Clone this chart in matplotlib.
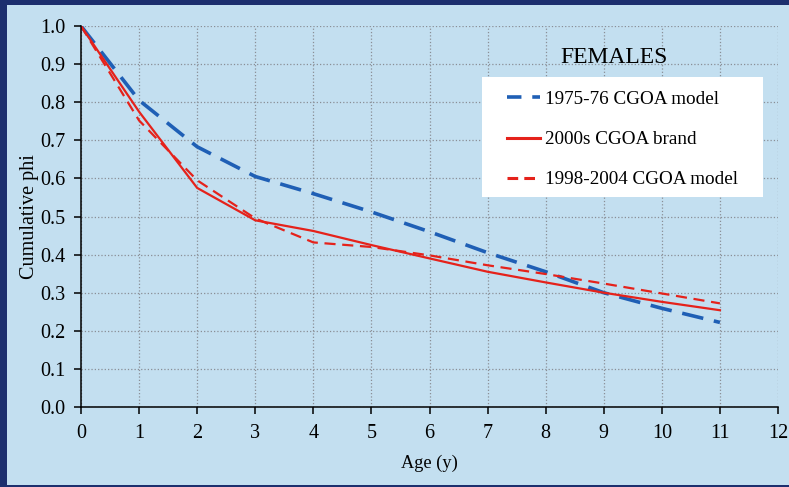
import matplotlib.pyplot as plt
from matplotlib.patches import Rectangle

# data
age = [0, 1, 2, 3, 4, 5, 6, 7, 8, 9, 10, 11]
model_1975 = [1.0, 0.805, 0.683, 0.605, 0.56, 0.512, 0.46, 0.405, 0.355, 0.30, 0.259, 0.222]
brand_2000s = [1.0, 0.775, 0.575, 0.49, 0.462, 0.425, 0.39, 0.355, 0.327, 0.30, 0.276, 0.254]
model_1998 = [1.0, 0.752, 0.595, 0.495, 0.432, 0.42, 0.398, 0.372, 0.349, 0.324, 0.298, 0.272]

plt.rcParams['font.family'] = ['Liberation Serif', 'DejaVu Serif']

fig = plt.figure(figsize=(7.89, 4.87), dpi=100)
fig.patch.set_facecolor('#1c2f6e')
# light panel inside the dark frame
fig.add_artist(Rectangle((7 / 789, 2 / 487), 782 / 789, 480 / 487,
                         transform=fig.transFigure, facecolor='#c3dff0',
                         edgecolor='none', zorder=-1))

ax = fig.add_axes([81 / 789, 80 / 487, 697 / 789, 381 / 487])
ax.set_facecolor('#c3dff0')

ax.plot(age, model_1975, color='#1f5fb5', lw=2.6, dashes=(6, 3), label='1975-76 CGOA model')
ax.plot(age, brand_2000s, color='#e5221b', lw=1.6, label='2000s CGOA brand')
ax.plot(age, model_1998, color='#e5221b', lw=1.6, dashes=(5, 3), label='1998-2004 CGOA model')

ax.set_xlim(0, 12)
ax.set_ylim(0, 1.0)
ax.set_xticks(range(0, 13))
ax.set_yticks([i / 10 for i in range(11)])
ax.set_yticklabels(['%.1f' % (i / 10) for i in range(11)])
ax.grid(True, color='#8a8f96', ls=':', lw=0.9)
ax.set_axisbelow(True)
for s in ['top', 'right']:
    ax.spines[s].set_visible(False)
for s in ['left', 'bottom']:
    ax.spines[s].set_linewidth(1.1)
ax.tick_params(labelsize=14.5, direction='out', length=5, width=1.1, colors='black')
ax.tick_params(axis='x', pad=7)
ax.tick_params(axis='y', pad=6)

ax.set_xlabel('Age (y)', fontsize=13.2, labelpad=9)
ax.set_ylabel('Cumulative phi', fontsize=14.5, labelpad=1)

ax.text(9.17, 0.918, 'FEMALES', fontsize=17, ha='center', va='center')

# white box behind the legend
ax.add_patch(Rectangle((401 / 697, 210 / 381), 281 / 697, 120 / 381,
                       transform=ax.transAxes, facecolor='white',
                       edgecolor='none', zorder=3))
leg = ax.legend(loc='upper left', bbox_to_anchor=(0.611, 0.83), fontsize=13.8,
                frameon=False, borderpad=0, labelspacing=1.18,
                handlelength=1.72, handletextpad=0.26, borderaxespad=0)
leg.set_zorder(4)
handles = leg.get_lines()
handles[0].set_linewidth(2.6)
handles[0].set_dashes((4, 3))
handles[1].set_linewidth(2.2)
handles[2].set_linewidth(2.2)
handles[2].set_dashes((3.5, 2))

fig.savefig('out.png', dpi=100, facecolor=fig.get_facecolor())
